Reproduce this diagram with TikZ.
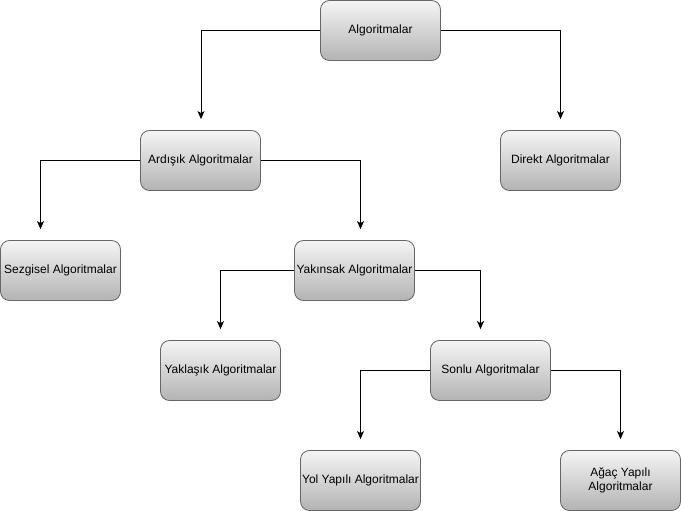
\documentclass[tikz,border=0pt]{standalone}
\usepackage{fontspec}
\setmainfont{Liberation Sans}
\usetikzlibrary{arrows.meta,calc}
\definecolor{boxtop}{HTML}{F5F5F5}
\definecolor{boxbot}{HTML}{B3B3B3}
\definecolor{boxline}{HTML}{666666}
\tikzset{
  algbox/.style={draw=boxline, line width=0.8pt, rounded corners=9pt,
    top color=boxtop, bottom color=boxbot, minimum width=120pt, minimum height=60pt,
    inner sep=1pt, font=\fontsize{12pt}{14pt}\selectfont, align=center},
  conn/.style={draw=black, line width=1pt, -{Stealth[length=8pt,width=7pt,inset=2pt]}, shorten >=11pt}
}
\begin{document}
\begin{tikzpicture}[x=1pt,y=-1pt]
\useasboundingbox (0,0) rectangle (681,511);
\node[algbox] (alg) at (380.5,30.5) {Algoritmalar};
\node[algbox] (ard) at (200.5,160.5) {Ardışık Algoritmalar};
\node[algbox] (dir) at (560.5,160.5) {Direkt Algoritmalar};
\node[algbox] (sez) at (60.5,270.5) {Sezgisel Algoritmalar};
\node[algbox] (yak) at (354.5,270.5) {Yakınsak Algoritmalar};
\node[algbox] (ykl) at (220.5,370.5) {Yaklaşık Algoritmalar};
\node[algbox] (son) at (490.5,370.5) {Sonlu Algoritmalar};
\node[algbox] (yol) at (360.5,480.5) {Yol Yapılı Algoritmalar};
\node[algbox] (aga) at (620.5,480.5) {Ağaç Yapılı\\Algoritmalar};

\draw[conn] (alg.west) -| ([xshift=0.5pt]ard.north);
\draw[conn] (alg.east) -| (dir.north);
\draw[conn] (ard.west) -| ([xshift=-20pt]sez.north);
\draw[conn] (ard.east) -| ([xshift=6pt]yak.north);
\draw[conn] (yak.west) -| (ykl.north);
\draw[conn] (yak.east) -| ([xshift=-10pt]son.north);
\draw[conn] (son.west) -| (yol.north);
\draw[conn] (son.east) -| (aga.north);
\end{tikzpicture}
\end{document}
